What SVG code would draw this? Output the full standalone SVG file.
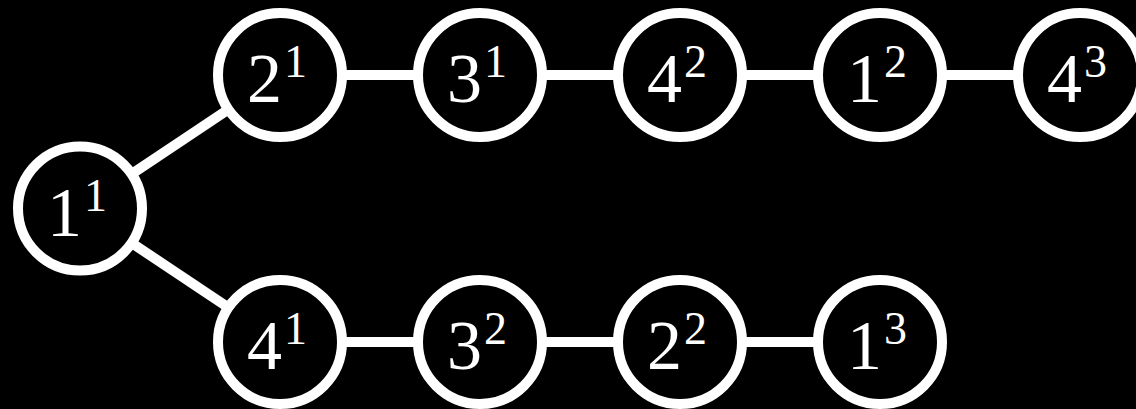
<svg xmlns="http://www.w3.org/2000/svg" width="1136" height="409" viewBox="0 0 1136 409">
<style>
.e{stroke:#fff;stroke-width:10;fill:none}
.n circle{fill:#000;stroke:#fff;stroke-width:10}
.n text{fill:#fff;font-family:"Liberation Serif","DejaVu Serif",serif;font-size:70px;text-anchor:middle}
.s{font-size:46px}
</style>
<rect width="1136" height="409" fill="#000"/>
<g id="edges">
<line class="e" x1="80" y1="208.5" x2="280" y2="75"/>
<line class="e" x1="80" y1="208.5" x2="280" y2="342"/>
<line class="e" x1="280" y1="75" x2="1080" y2="75"/>
<line class="e" x1="280" y1="342" x2="880" y2="342"/>
</g>
<g id="n11" class="n"><circle cx="80" cy="208.5" r="62"/><text x="77" y="236"><tspan>1</tspan><tspan class="s" dx="2" dy="-25">1</tspan></text></g>
<g id="n21" class="n"><circle cx="280" cy="75" r="62"/><text x="277" y="102"><tspan>2</tspan><tspan class="s" dx="2" dy="-25">1</tspan></text></g>
<g id="n31" class="n"><circle cx="480" cy="75" r="62"/><text x="477" y="102"><tspan>3</tspan><tspan class="s" dx="2" dy="-25">1</tspan></text></g>
<g id="n42" class="n"><circle cx="680" cy="75" r="62"/><text x="677" y="102"><tspan>4</tspan><tspan class="s" dx="2" dy="-25">2</tspan></text></g>
<g id="n12" class="n"><circle cx="880" cy="75" r="62"/><text x="877" y="102"><tspan>1</tspan><tspan class="s" dx="2" dy="-25">2</tspan></text></g>
<g id="n43" class="n"><circle cx="1080" cy="75" r="62"/><text x="1077" y="102"><tspan>4</tspan><tspan class="s" dx="2" dy="-25">3</tspan></text></g>
<g id="n41" class="n"><circle cx="280" cy="342" r="62"/><text x="277" y="369"><tspan>4</tspan><tspan class="s" dx="2" dy="-25">1</tspan></text></g>
<g id="n32" class="n"><circle cx="480" cy="342" r="62"/><text x="477" y="369"><tspan>3</tspan><tspan class="s" dx="2" dy="-25">2</tspan></text></g>
<g id="n22" class="n"><circle cx="680" cy="342" r="62"/><text x="677" y="369"><tspan>2</tspan><tspan class="s" dx="2" dy="-25">2</tspan></text></g>
<g id="n13" class="n"><circle cx="880" cy="342" r="62"/><text x="877" y="369"><tspan>1</tspan><tspan class="s" dx="2" dy="-25">3</tspan></text></g>
</svg>
